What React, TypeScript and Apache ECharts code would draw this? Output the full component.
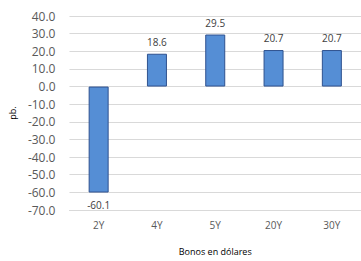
import React, { useEffect, useRef } from "react";
import * as echarts from "echarts";

const categories = ["2Y", "4Y", "5Y", "20Y", "30Y"];
const values = [-60.1, 18.6, 29.5, 20.7, 20.7];
const yMin = -70;
const yMax = 40;
const yInterval = 10;

export default function App() {
  const ref = useRef<HTMLDivElement>(null);
  useEffect(() => {
    if (!ref.current) return;
    const chart = echarts.init(ref.current, undefined, { renderer: "svg" });
    const font = "'Open Sans', 'DejaVu Sans', sans-serif";
    chart.setOption({
      animation: false,
      grid: { left: 62, top: 16, width: 305, height: 199, containLabel: false },
      xAxis: {
        type: "category",
        data: categories,
        name: "Bonos en dólares",
        nameLocation: "middle",
        nameGap: 37,
        nameTextStyle: { fontSize: 9, color: "#000", fontFamily: font },
        axisLine: { onZero: false, lineStyle: { color: "#d9d9d9" } },
        axisTick: { show: false },
        axisLabel: { fontSize: 10, color: "#595959", margin: 10, fontFamily: font },
      },
      yAxis: {
        type: "value",
        min: yMin,
        max: yMax,
        interval: yInterval,
        name: "pb.",
        nameLocation: "middle",
        nameRotate: 90,
        nameGap: 44,
        nameTextStyle: { fontSize: 9, color: "#000", fontFamily: font },
        axisLabel: {
          fontSize: 12,
          color: "#595959",
          margin: 14,
          fontFamily: font,
          formatter: (v: number) => v.toFixed(1),
        },
        splitLine: { lineStyle: { color: "#d9d9d9" } },
        axisLine: { show: false },
        axisTick: { show: false },
      },
      series: [
        {
          type: "bar",
          data: values,
          barWidth: 20,
          itemStyle: { color: "#558ed5", borderColor: "#2f528f", borderWidth: 1 },
          label: {
            show: true,
            position: "outside",
            fontSize: 10,
            color: "#404040",
            fontFamily: font,
            distance: 7,
            formatter: (p: any) => p.value.toFixed(1),
          },
        },
      ],
    });
    return () => chart.dispose();
  }, []);
  return <div ref={ref} style={{ width: 361, height: 261, position: "absolute", left: 0, top: 0 }} />;
}
